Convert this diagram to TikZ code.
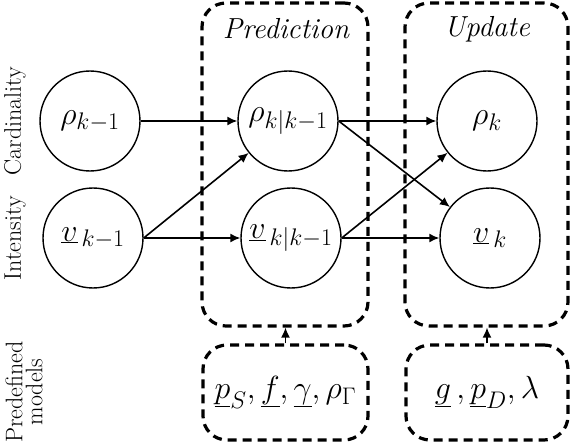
\RequirePackage{fix-cm}
\documentclass[tikz,border=0pt]{standalone}
\usetikzlibrary{arrows.meta}
\DeclareMathSizes{32}{32}{24}{18}
\begin{document}
\begin{tikzpicture}[x=1pt,y=-1pt,
  circ/.style={draw, circle, line width=1.4pt, minimum size=100pt, inner sep=0pt, font=\fontsize{32}{36}\selectfont},
  dbox/.style={draw, rounded corners=24pt, line width=3.2pt, dash pattern=on 9pt off 6pt, inner sep=0pt},
  arr/.style={-{Latex[length=10pt,width=9pt]}, line width=1.6pt},
  lbl/.style={font=\fontsize{24}{26}\selectfont, rotate=90, align=center},
  ttl/.style={font=\fontsize{29}{32}\selectfont\itshape}]
\useasboundingbox (0,0) rectangle (574,444);
% dashed group boxes
\node[dbox, minimum width=166pt, minimum height=323pt] (pred) at (285,164.5) {};
\node[dbox, minimum width=163pt, minimum height=323pt] (upd) at (486.5,164.5) {};
\node[dbox, minimum width=165pt, minimum height=95pt, font=\fontsize{32}{36}\selectfont] (m1) at (285.5,392.5)
  {$\underline{p}_S, \underline{f}, \underline{\gamma}, \rho_\Gamma$};
\node[dbox, minimum width=162pt, minimum height=95pt, font=\fontsize{32}{36}\selectfont] (m2) at (487,392.5)
  {$\underline{g}\,, \underline{p}_D, \lambda$};
% titles
\node[ttl] (tp) at (286,29) {Prediction};
\node[ttl] (tu) at (487,29) {Update};
% side labels
\node[lbl] (lc) at (15,121) {Cardinality};
\node[lbl] (li) at (15,238) {Intensity};
\node[lbl] (lp) at (24,392) {Predefined\\[-6pt]models};
% circles
\node[circ] (r1) at (90,121) {$\rho_{k-1}$};
\node[circ] (v1) at (93,238) {$\underline{v}_{\,k-1}$};
\node[circ] (r2) at (288,121) {$\rho_{k|k-1}$};
\node[circ] (v2) at (291,238) {$\underline{v}_{\,k|k-1}$};
\node[circ] (r3) at (487,121) {$\rho_k$};
\node[circ] (v3) at (490,238) {$\underline{v}_{\,k}$};
% arrows
\draw[arr] (r1) -- (r2);
\draw[arr] (v1.east) -- (r2);
\draw[arr] (v1.east) -- (v2.west);
\draw[arr] (r2.east) -- (r3.west);
\draw[arr] (r2.east) -- (v3);
\draw[arr] (v2.east) -- (r3);
\draw[arr] (v2.east) -- (v3.west);
\draw[arr] (m1.north) -- (m1.north |- pred.south);
\draw[arr] (m2.north) -- (m2.north |- upd.south);
\end{tikzpicture}
\end{document}
